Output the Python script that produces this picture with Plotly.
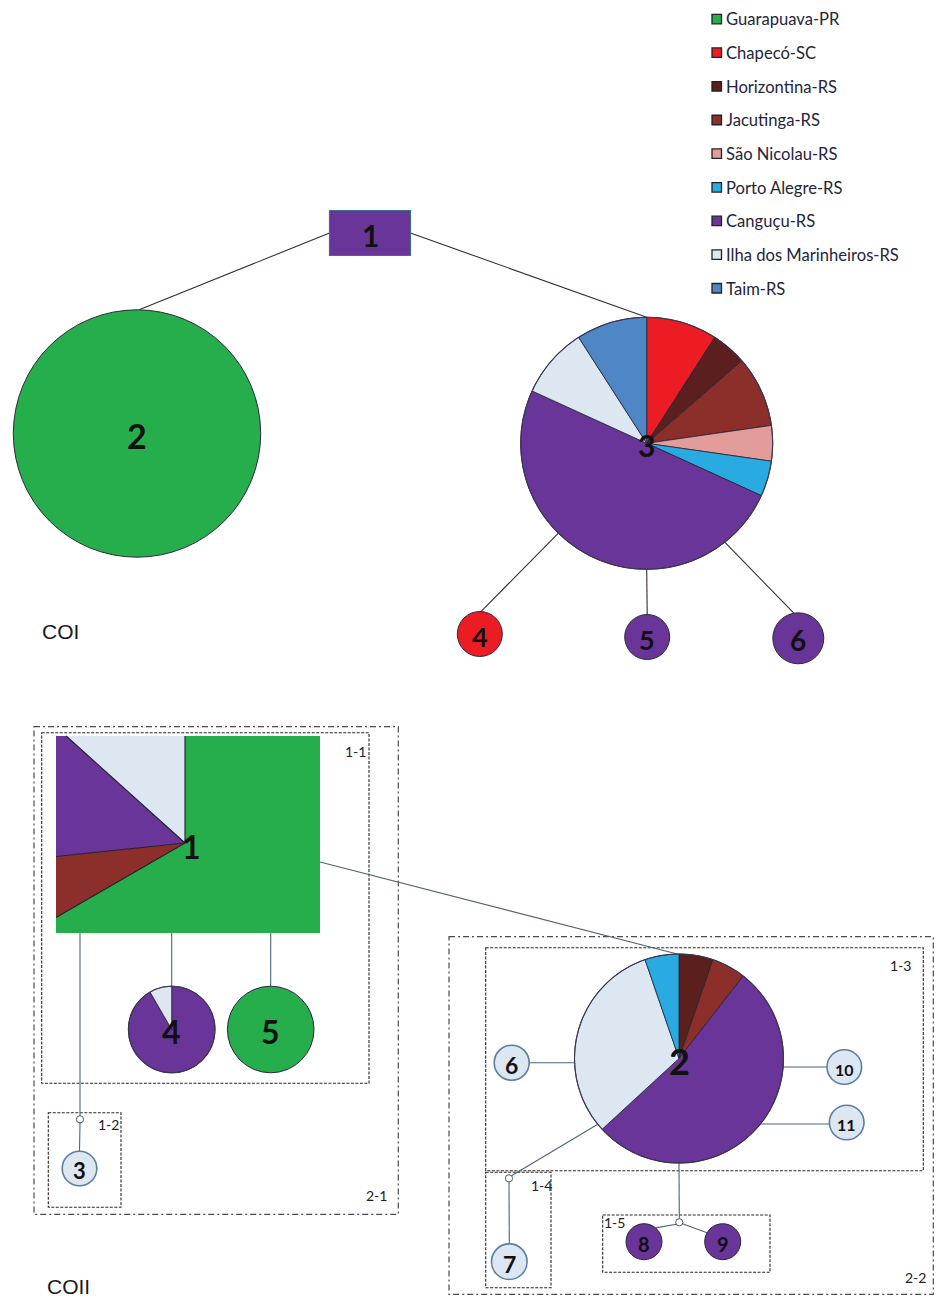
import math
import plotly.graph_objects as go

# ---------------- data ----------------
populations = ["Guarapuava-PR", "Chapecó-SC", "Horizontina-RS", "Jacutinga-RS",
               "São Nicolau-RS", "Porto Alegre-RS", "Canguçu-RS",
               "Ilha dos Marinheiros-RS", "Taim-RS"]
pop_colors = ["#25AE4B", "#EC1C24", "#5B1F1D", "#8C2F2B", "#E29C99",
              "#29ABE2", "#6A3598", "#DCE7F1", "#4F87C6"]
COLOR = dict(zip(populations, pop_colors))

# COI haplotype composition (population, count) in clockwise order from 12 o'clock
coi_h1 = [("Canguçu-RS", 1)]
coi_h2 = [("Guarapuava-PR", 1)]
coi_h3 = [("Chapecó-SC", 2), ("Horizontina-RS", 1), ("Jacutinga-RS", 2),
          ("São Nicolau-RS", 1), ("Porto Alegre-RS", 1), ("Canguçu-RS", 11),
          ("Ilha dos Marinheiros-RS", 2), ("Taim-RS", 2)]
coi_h4 = [("Chapecó-SC", 1)]
coi_h5 = [("Canguçu-RS", 1)]
coi_h6 = [("Canguçu-RS", 1)]

# COII haplotype composition
coii_h1 = [("Guarapuava-PR", 10), ("Jacutinga-RS", 1), ("Canguçu-RS", 2),
           ("Ilha dos Marinheiros-RS", 2)]
coii_h2 = [("Horizontina-RS", 1), ("Jacutinga-RS", 1), ("Canguçu-RS", 10),
           ("Ilha dos Marinheiros-RS", 6), ("Porto Alegre-RS", 1)]
coii_h3 = [("Ilha dos Marinheiros-RS", 1)]
coii_h4 = [("Canguçu-RS", 11), ("Ilha dos Marinheiros-RS", 1)]
coii_h5 = [("Guarapuava-PR", 1)]
coii_h6 = [("Ilha dos Marinheiros-RS", 1)]
coii_h7 = [("Ilha dos Marinheiros-RS", 1)]
coii_h8 = [("Canguçu-RS", 1)]
coii_h9 = [("Canguçu-RS", 1)]
coii_h10 = [("Ilha dos Marinheiros-RS", 1)]
coii_h11 = [("Ilha dos Marinheiros-RS", 1)]

# ---------------- layout (pixel canvas) ----------------
W, H = 938, 1300
# node: (kind, cx, cy, size, composition, label font size)
coi_nodes = {
    "1": ("rect", 370, 233, (40.5, 22.5), coi_h1, 30),
    "2": ("circle", 137, 433.5, 123.7, coi_h2, 34),
    "3": ("circle", 646.7, 443.3, 126, coi_h3, 30),
    "4": ("circle", 479.8, 634, 22.5, coi_h4, 27),
    "5": ("circle", 647.2, 637, 22.5, coi_h5, 27),
    "6": ("circle", 798.3, 638.3, 25.5, coi_h6, 28),
}
coi_edges = [("1", 270, "2", 1), ("1", 90, "3", 0), ("3", 224.5, "4", 3),
             ("3", 180, "5", 0), ("3", 141.7, "6", 350)]

coii_nodes = {
    "1": ("rectpie", 185, 843, (56, 736, 320, 933), coii_h1, 32),
    "2": ("circle", 679, 1058.5, 104.5, coii_h2, 36),
    "3": ("circle", 79.5, 1168.5, 17.3, coii_h3, 22),
    "4": ("circle", 171.7, 1029.5, 43.3, coii_h4, 32),
    "5": ("circle", 270.7, 1029.5, 43.3, coii_h5, 32),
    "6": ("circle", 511.7, 1062.7, 17.5, coii_h6, 23),
    "7": ("circle", 509.3, 1261.7, 17.8, coii_h7, 23),
    "8": ("circle", 644, 1241.7, 18, coii_h8, 20),
    "9": ("circle", 722.7, 1241.7, 18, coii_h9, 20),
    "10": ("circle", 844.3, 1067, 17.3, coii_h10, 16),
    "11": ("circle", 846.7, 1122.5, 17.3, coii_h11, 16),
}
# median vectors (small hollow circles)
coii_median = {"m1": (80, 1119.3), "m2": (509, 1178.3), "m3": (679.3, 1222.3)}

boxes = [  # (x0, y0, x1, y1, label, label_x, label_y, style)
    (34, 726.7, 398.3, 1214.3, "2-1", 376, 1195, "outer"),
    (41.7, 732.7, 369, 1083.3, "1-1", 355, 751, "inner"),
    (48.3, 1112.7, 121, 1207.3, "1-2", 108, 1124, "inner"),
    (449, 936.7, 933.3, 1294.3, "2-2", 915, 1277, "outer"),
    (485.7, 947.7, 923.3, 1170.7, "1-3", 900, 965, "inner"),
    (485.7, 1172.3, 551, 1287.7, "1-4", 541, 1185, "inner"),
    (602.7, 1215, 770, 1272.3, "1-5", 614, 1222, "inner"),
]

shapes = []
annotations = []


def pt(cx, cy, r, a):
    t = math.radians(a)
    return cx + r * math.sin(t), cy - r * math.cos(t)


def wedge_path(cx, cy, r, a0, a1):
    n = max(4, int(abs(a1 - a0) / 1.5))
    pts = [(cx, cy)] + [pt(cx, cy, r, a0 + (a1 - a0) * i / n) for i in range(n + 1)]
    return "M " + " L ".join(f"{x:.2f},{y:.2f}" for x, y in pts) + " Z"


def ray_rect(cx, cy, rect, a):
    x0, y0, x1, y1 = rect
    dx, dy = math.sin(math.radians(a)), -math.cos(math.radians(a))
    ts = []
    if dx > 1e-9:
        ts.append((x1 - cx) / dx)
    if dx < -1e-9:
        ts.append((x0 - cx) / dx)
    if dy > 1e-9:
        ts.append((y1 - cy) / dy)
    if dy < -1e-9:
        ts.append((y0 - cy) / dy)
    t = min(ts)
    return cx + t * dx, cy + t * dy


def rect_wedge_path(cx, cy, rect, a0, a1):
    x0, y0, x1, y1 = rect
    corners = []
    for (px, py) in [(x0, y0), (x1, y0), (x1, y1), (x0, y1)]:
        ang = math.degrees(math.atan2(px - cx, -(py - cy))) % 360
        if a0 < ang < a1:
            corners.append((ang, (px, py)))
    corners.sort()
    pts = [(cx, cy), ray_rect(cx, cy, rect, a0)] + [c[1] for c in corners] + [ray_rect(cx, cy, rect, a1)]
    return "M " + " L ".join(f"{x:.2f},{y:.2f}" for x, y in pts) + " Z"


def anchor(node, a):
    kind, cx, cy, size = node[0], node[1], node[2], node[3]
    if kind == "circle":
        return pt(cx, cy, size, a)
    if kind == "rect":
        hw, hh = size
        return ray_rect(cx, cy, (cx - hw, cy - hh, cx + hw, cy + hh), a)
    return ray_rect(cx, cy, size, a)


def anchor_y(node, y, side):
    """Point on a circle's boundary at height y, on the left (-1) or right (+1) side."""
    cx, cy, r = node[1], node[2], node[3]
    return cx + side * math.sqrt(max(r * r - (y - cy) ** 2, 0)), y


def add_line(p, q, color, width=1.1):
    shapes.append(dict(type="line", x0=p[0], y0=p[1], x1=q[0], y1=q[1],
                       line=dict(color=color, width=width), layer="above"))


def draw_node(node, label, outline="#2b2b3a", line_w=1):
    kind, cx, cy, size, comp, fs = node
    total = sum(c for _, c in comp)
    if kind == "rect":
        hw, hh = size
        shapes.append(dict(type="rect", x0=cx - hw, y0=cy - hh, x1=cx + hw, y1=cy + hh,
                           fillcolor=COLOR[comp[0][0]], line=dict(color="#3f6f8f", width=1.2)))
    elif kind == "rectpie":
        a = 0.0
        bounds = []
        for pop, c in comp:
            span = 360.0 * c / total
            shapes.append(dict(type="path", path=rect_wedge_path(cx, cy, size, a, a + span),
                               fillcolor=COLOR[pop], line=dict(width=0)))
            bounds.append(a)
            a += span
        for b in bounds:
            q = ray_rect(cx, cy, size, b)
            shapes.append(dict(type="line", x0=cx, y0=cy, x1=q[0], y1=q[1],
                               line=dict(color="#1f1f2a", width=1.1)))
    else:
        if len(comp) == 1:
            is_light = comp[0][0] == "Ilha dos Marinheiros-RS"
            shapes.append(dict(type="circle", x0=cx - size, y0=cy - size, x1=cx + size, y1=cy + size,
                               fillcolor=COLOR[comp[0][0]],
                               line=dict(color="#5b7fa3" if is_light else outline,
                                         width=1.6 if is_light else line_w)))
        else:
            a = 0.0
            for pop, c in comp:
                span = 360.0 * c / total
                shapes.append(dict(type="path", path=wedge_path(cx, cy, size, a, a + span),
                                   fillcolor=COLOR[pop], line=dict(color="#222233", width=0.8)))
                a += span
            shapes.append(dict(type="circle", x0=cx - size, y0=cy - size, x1=cx + size, y1=cy + size,
                               fillcolor="rgba(0,0,0,0)", line=dict(color="#3a3550", width=1.1)))
    ly = cy + (2 if kind != "rectpie" else 3)
    lx = cx + (6 if kind == "rectpie" else 0)
    annotations.append(dict(x=lx, y=ly, text=f"<b>{label}</b>", showarrow=False,
                            font=dict(family="Lato, Open Sans, sans-serif", size=fs, color="#111111"),
                            xanchor="center", yanchor="middle"))


# ---------------- COI network ----------------
COI_LINE = "#3a2d2d"
for a, aa, b, ab in coi_edges:
    add_line(anchor(coi_nodes[a], aa), anchor(coi_nodes[b], ab), COI_LINE, 1.1)
for k, nd in coi_nodes.items():
    draw_node(nd, k)

annotations.append(dict(x=60, y=631, text="COI", showarrow=False,
                        font=dict(family="Liberation Sans, Arial, sans-serif", size=21, color="#1a1a1a")))

# ---------------- COII boxes ----------------
for x0, y0, x1, y1, lab, lx, ly, style in boxes:
    if style == "outer":
        ln = dict(color="#4a4a4a", width=1.2, dash="6px,3px,2px,3px")
    else:
        ln = dict(color="#2e2522", width=1.1, dash="3px,1.5px")
    shapes.append(dict(type="rect", x0=x0, y0=y0, x1=x1, y1=y1, line=ln,
                       fillcolor="rgba(0,0,0,0)", layer="below"))
    annotations.append(dict(x=lx, y=ly, text=lab, showarrow=False,
                            font=dict(family="Lato, sans-serif", size=14, color="#222222")))

# ---------------- COII network ----------------
COII_LINE = "#4b6774"
n = coii_nodes
m = coii_median
# hap1 -> hap2 (long connector)
add_line(anchor(n["1"], 98), anchor(n["2"], 359), COII_LINE, 1.1)
# hap1 -> hap4 / hap5
add_line((n["4"][1], 933), anchor(n["4"], 0), COII_LINE, 1.1)
add_line((n["5"][1], 933), anchor(n["5"], 0), COII_LINE, 1.1)
# hap1 -> median1 -> hap3
add_line((m["m1"][0], 933), (m["m1"][0], m["m1"][1] - 3.5), COII_LINE, 1.1)
add_line((m["m1"][0], m["m1"][1] + 3.5), anchor(n["3"], 0), COII_LINE, 1.1)
# hap2 -> 6, 10, 11 (horizontal connectors)
y6 = n["6"][2]
add_line(anchor_y(n["2"], y6, -1), (n["6"][1] + n["6"][3], y6), COII_LINE, 1.1)
y10 = n["10"][2]
add_line(anchor_y(n["2"], y10, 1), (n["10"][1] - n["10"][3], y10), COII_LINE, 1.1)
y11 = n["11"][2] + 1.5
add_line(anchor_y(n["2"], y11, 1), (n["11"][1] - n["11"][3], y11), COII_LINE, 1.1)
# hap2 -> median2 -> hap7
add_line(anchor(n["2"], 231), (m["m2"][0] + 2.5, m["m2"][1] - 2.5), COII_LINE, 1.1)
add_line((m["m2"][0], m["m2"][1] + 3.5), anchor(n["7"], 0), COII_LINE, 1.1)
# hap2 -> median3 -> hap8 / hap9
add_line(anchor(n["2"], 180), (m["m3"][0], m["m3"][1] - 3.5), COII_LINE, 1.1)
add_line((m["m3"][0] - 3, m["m3"][1] + 2), anchor(n["8"], 40), COII_LINE, 1.1)
add_line((m["m3"][0] + 3.3, m["m3"][1] + 1.5), anchor(n["9"], 300), COII_LINE, 1.1)

for k, nd in coii_nodes.items():
    draw_node(nd, k, outline="#2d2340", line_w=1)

for (mx, my) in m.values():
    shapes.append(dict(type="circle", x0=mx - 3.6, y0=my - 3.6, x1=mx + 3.6, y1=my + 3.6,
                       fillcolor="white", line=dict(color="#4b5b66", width=1)))

annotations.append(dict(x=68, y=1286, text="COII", showarrow=False,
                        font=dict(family="Liberation Sans, Arial, sans-serif", size=21, color="#1a1a1a")))

# ---------------- legend ----------------
leg_y0, leg_dy = 19.3, 33.65
for i, (pop, col) in enumerate(zip(populations, pop_colors)):
    yy = leg_y0 + i * leg_dy
    shapes.append(dict(type="rect", x0=712, y0=yy - 5, x1=721.5, y1=yy + 4.5,
                       fillcolor=col, line=dict(color="#222222", width=1.3)))
    annotations.append(dict(x=723.5, y=yy, text=pop, showarrow=False, xanchor="left",
                            yanchor="middle",
                            font=dict(family="Lato, sans-serif", size=16.6, color="#25253a")))

fig = go.Figure()
fig.add_trace(go.Scatter(x=[0, W], y=[0, H], mode="markers", marker=dict(opacity=0),
                         hoverinfo="skip", showlegend=False))
fig.update_layout(
    width=W, height=H, margin=dict(l=0, r=0, t=0, b=0),
    paper_bgcolor="white", plot_bgcolor="white",
    xaxis=dict(range=[0, W], visible=False, fixedrange=True),
    yaxis=dict(range=[H, 0], visible=False, fixedrange=True),
    shapes=shapes, annotations=annotations, showlegend=False,
)
fig.write_html("out.html")
